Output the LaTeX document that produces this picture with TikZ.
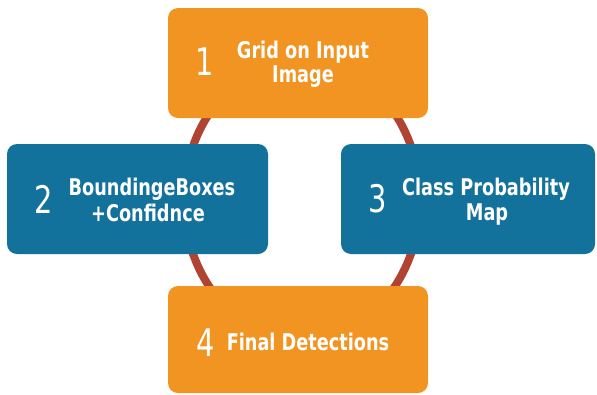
\documentclass[tikz,border=0pt]{standalone}
\usepackage{fontspec}
\setmainfont{DejaVu Sans}
\newfontfamily\lblfont[FakeStretch=0.77]{DejaVu Sans}
\newfontfamily\numfont[FakeStretch=0.76]{DejaVu Sans}
\definecolor{boxorange}{HTML}{F19422}
\definecolor{boxblue}{HTML}{12729B}
\definecolor{ringred}{HTML}{B04432}
\begin{document}
\begin{tikzpicture}[x=1pt,y=-1pt,
  stepbox/.style={rounded corners=10pt, minimum width=#1, minimum height=110pt, inner sep=0pt, draw=none},
  numtxt/.style={text=white, font=\numfont\fontsize{38}{40}\selectfont, inner sep=0pt},
  lbltxt/.style={text=white, font=\lblfont\bfseries\fontsize{23}{25}\selectfont, inner sep=0pt, anchor=base},
  ring/.style={draw=ringred, line width=8pt}]
\useasboundingbox (0,0) rectangle (597,394);
\coordinate (ringc) at (302,200);
\draw[ring] (ringc) ellipse [x radius=118pt, y radius=140pt];
% boxes
\node[stepbox=260pt, fill=boxorange] (b1) at (298,63) {};
\node[stepbox=261pt, fill=boxblue] (b2) at (137.5,199) {};
\node[stepbox=254pt, fill=boxblue] (b3) at (468,199) {};
\node[stepbox=260pt, fill=boxorange, minimum height=107pt] (b4) at (298,339.5) {};
% numbers
\node[numtxt] (n1) at (205,62) {1};
\node[numtxt] (n2) at (44,199) {2};
\node[numtxt] (n3) at (378,199) {3};
\node[numtxt] (n4) at (206,343) {4};
% labels
\node[lbltxt] (t1a) at (303,58) {Grid on Input};
\node[lbltxt] (t1b) at (303,82) {Image};
\node[lbltxt] (t2a) at (152,195) {BoundingeBoxes};
\node[lbltxt] (t2b) at (148,221) {+Confidnce};
\node[lbltxt] (t3a) at (486,195) {Class Probability};
\node[lbltxt] (t3b) at (487,220) {Map};
\node[lbltxt] (t4) at (308,350) {Final Detections};
\end{tikzpicture}
\end{document}
